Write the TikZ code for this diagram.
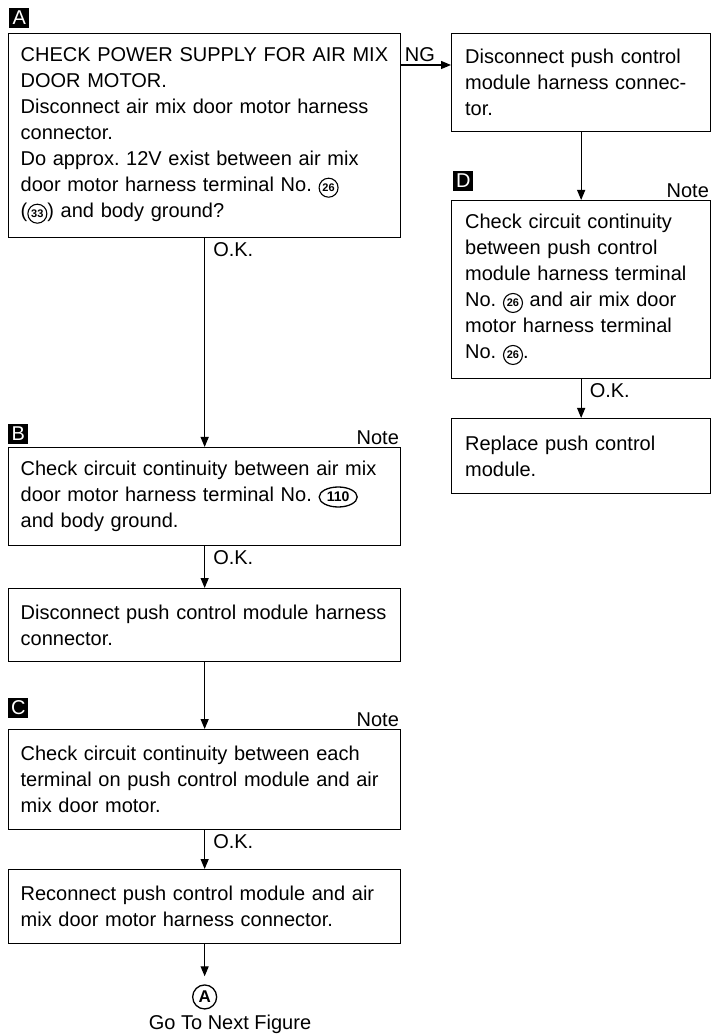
\documentclass[tikz,border=0pt]{standalone}
\usepackage{fontspec}
\setmainfont{Liberation Sans}
\usetikzlibrary{shapes.geometric, arrows.meta, positioning}
\frenchspacing

% circled terminal numbers
\newcommand{\cnum}[1]{\tikz[baseline=(cn.base)]\node (cn) [circle, draw, line width=0.55pt, inner sep=0.3pt, minimum size=9.5pt, font=\fontsize{5.5}{5.5}\selectfont\bfseries] {#1};}
\newcommand{\onum}[1]{\tikz[baseline=(on.base)]\node (on) [ellipse, draw, line width=0.65pt, inner sep=0.4pt, minimum height=10pt, minimum width=19pt, font=\fontsize{7}{7}\selectfont\bfseries] {#1};}

\begin{document}
\begin{tikzpicture}[
    x=0.5pt, y=-0.5pt,
    stepbox/.style={draw, rectangle, line width=0.65pt, anchor=north west, align=left, inner xsep=6pt, font=\fontsize{10}{13}\selectfont},
    widebox/.style={stepbox, text width=184pt, minimum width=196pt},
    narrowbox/.style={stepbox, text width=116pt, minimum width=129.5pt},
    badge/.style={fill=black, text=white, minimum size=10pt, inner sep=0pt, font=\fontsize{10}{10}\selectfont},
    notelabel/.style={anchor=south east, inner sep=1pt, font=\fontsize{10}{12}\selectfont},
    oklabel/.style={anchor=north west, inner xsep=4pt, inner ysep=2pt, font=\fontsize{10}{12}\selectfont},
    arrow/.style={-{Triangle[length=5pt, width=4pt]}, line width=0.6pt}
]
    \useasboundingbox (0,0) rectangle (711,1036);

    % Left column
    \node (boxA) [widebox, minimum height=102pt] at (8,33) {CHECK POWER SUPPLY FOR AIR MIX\\DOOR MOTOR.\\Disconnect air mix door motor harness\\connector.\\Do approx. 12V exist between air mix\\door motor harness terminal No. \cnum{26}\\(\cnum{33}) and body ground?};
    \node (boxB) [widebox, minimum height=49pt] at (8,447) {Check circuit continuity between air mix\\door motor harness terminal No. \onum{110}\\and body ground.};
    \node (boxdisc) [widebox, minimum height=36.5pt] at (8,588) {Disconnect push control module harness\\connector.};
    \node (boxC) [widebox, minimum height=50pt] at (8,729) {Check circuit continuity between each\\terminal on push control module and air\\mix door motor.};
    \node (boxreconn) [widebox, minimum height=37pt] at (8,869) {Reconnect push control module and air\\mix door motor harness connector.};

    % Right column
    \node (boxng) [narrowbox, minimum height=49pt] at (451,33) {Disconnect push control\\module harness connec-\\tor.};
    \node (boxD) [narrowbox, minimum height=89pt] at (451,200) {Check circuit continuity\\between push control\\module harness terminal\\No. \cnum{26} and air mix door\\motor harness terminal\\No. \cnum{26}.};
    \node (boxrepl) [narrowbox, minimum height=37.5pt] at (451,418) {Replace push control\\module.};

    % Step tags and notes
    \node (tagA) [badge, above right=2.5pt and 0.5pt of boxA.north west] {A};
    \node (tagB) [badge, above right=1.5pt and 0pt of boxB.north west] {B};
    \node (tagC) [badge, above right=5.5pt and 0pt of boxC.north west] {C};
    \node (tagD) [badge, above right=4.5pt and 1pt of boxD.north west] {D};
    \node (noteB) [notelabel] at (boxB.north east) {Note};
    \node (noteC) [notelabel] at (boxC.north east) {Note};
    \node (noteD) [notelabel] at (boxD.north east) {Note};

    % Connector to next figure
    \node (goA) [circle, draw, line width=0.65pt, minimum size=12pt, inner sep=0pt, font=\fontsize{8.5}{8.5}\selectfont\bfseries, below=20pt of boxreconn] {A};
    \node (nextfig) [font=\fontsize{10}{12}\selectfont] at (230,1024) {Go To Next Figure};

    % Connections
    \draw [arrow] ([yshift=-16pt]boxA.north east) -- node[pos=0, anchor=south west, inner sep=1.5pt, font=\fontsize{10}{12}\selectfont] {NG} ([yshift=-16pt]boxng.north west);
    \draw [arrow] (boxA) -- node[oklabel, pos=0] {O.K.} (boxB);
    \draw [arrow] (boxB) -- node[oklabel, pos=0] {O.K.} (boxdisc);
    \draw [arrow] (boxdisc) -- (boxC);
    \draw [arrow] (boxC) -- node[oklabel, pos=0] {O.K.} (boxreconn);
    \draw [arrow, shorten >=4pt] (boxreconn) -- (goA);
    \draw [arrow] (boxng) -- (boxD);
    \draw [arrow] (boxD) -- node[oklabel, pos=0] {O.K.} (boxrepl);
\end{tikzpicture}
\end{document}
